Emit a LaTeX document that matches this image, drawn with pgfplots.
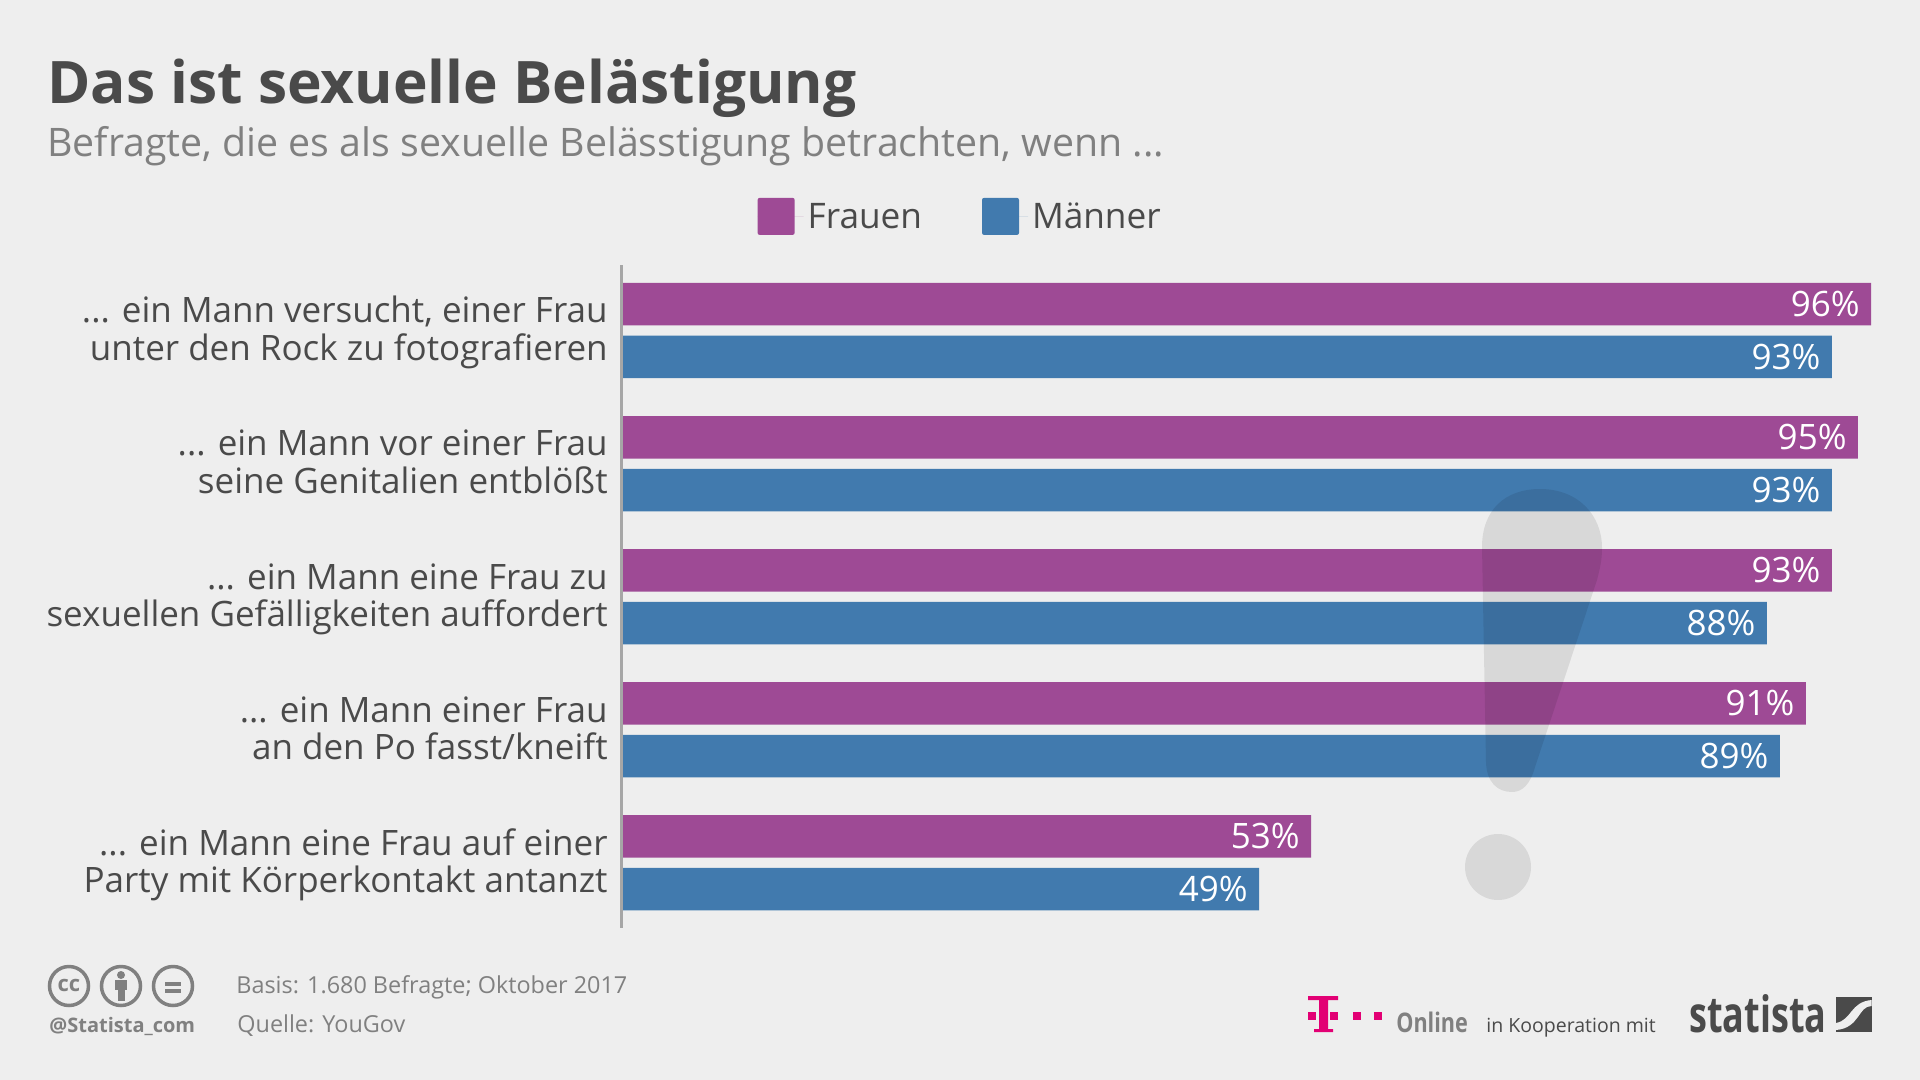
\documentclass[border=0pt]{standalone}
\usepackage{fontspec}
\setmainfont{Open Sans}
\usepackage{pgfplots}
\pgfplotsset{compat=1.18}
\definecolor{bgc}{HTML}{EEEEEE}
\definecolor{frauen}{HTML}{9E4A95}
\definecolor{maenner}{HTML}{417AAE}
\definecolor{dark}{HTML}{4A4A4A}
\definecolor{midgray}{HTML}{808080}
\definecolor{telekom}{HTML}{E20074}
\newcommand{\fs}[2]{\fontsize{#1}{#2}\selectfont}
\newcommand{\ddd}{.{}.{}.}
% two-line label with a fixed height and depth, so all sit alike
\newcommand{\lb}[2]{\rule{0pt}{15pt}#1\\#2\rule[-6pt]{0pt}{6pt}}
\begin{document}
\begin{tikzpicture}
\useasboundingbox (0,0) rectangle (960pt,-540pt);
\fill[bgc] (0,0) rectangle (960pt,-540pt);
\begin{axis}[
  at={(310.5pt,-464pt)}, anchor=south west,
  scale only axis, width=625pt, height=331.5pt,
  xbar, bar width=21.25pt,
  xmin=0, xmax=96,
  ymin=-0.493, ymax=4.49, y dir=reverse,
  axis on top,
  axis x line=none, axis y line*=left,
  y axis line style={-, draw=black!35, line width=1.5pt},
  ytick={0,1,2,3,4}, major tick length=0pt,
  yticklabels={
    {\lb{\ddd{} ein Mann versucht, einer Frau}{unter den Rock zu fotografieren}},
    {\lb{\ddd{} ein Mann vor einer Frau}{seine Genitalien entblößt}},
    {\lb{\ddd{} ein Mann eine Frau zu}{sexuellen Gefälligkeiten auffordert}},
    {\lb{\ddd{} ein Mann einer Frau}{an den Po fasst/kneift}},
    {\lb{\ddd{} ein Mann eine Frau auf einer}{Party mit Körperkontakt antanzt}}},
  yticklabel style={align=right, text=dark, font=\fs{17.5}{18.7}, inner sep=0pt, xshift=-6.5pt, yshift=-1pt},
  point meta=x,
  /pgf/number format/assume math mode=true,
  nodes near coords={\pgfmathprintnumber{\pgfplotspointmeta}\%},
  nodes near coords style={anchor=east, text=white, font=\fs{17.5}{20}, inner sep=0pt, xshift=-5.5pt},
  legend columns=2,
  legend style={at={(0.109,1.073)}, anchor=west, draw=none, fill=none, inner sep=0pt,
    font=\fs{17.6}{22}, text=dark,
    /tikz/every even column/.append style={column sep=28pt}},
  legend image code/.code={
    \path (0pt,0pt) -- (23pt,0pt);
    \fill[#1,draw=none,rounded corners=1pt] (0pt,-8.95pt) rectangle (18.5pt,9.55pt);},
]
\addplot[fill=frauen, draw=none, bar shift=13.2pt] coordinates {(96,0) (95,1) (93,2) (91,3) (53,4)};
\addlegendentry{Frauen}
\addplot[fill=maenner, draw=none, bar shift=-13.2pt] coordinates {(93,0) (93,1) (88,2) (89,3) (49,4)};
\addlegendentry{Männer}
\end{axis}
\begin{scope}[x=0.5pt,y=-0.5pt]
  % exclamation mark over the bars
  \fill[black,opacity=0.09] (1482,547) .. controls (1482,510) and (1505,489) .. (1540,489)
    .. controls (1578,489) and (1602,515) .. (1602,548)
    .. controls (1602,560) and (1600,568) .. (1597,580)
    -- (1535,767) .. controls (1530,785) and (1522,792) .. (1512,792)
    .. controls (1497,792) and (1487,782) .. (1486,763) -- cycle;
  \fill[black,opacity=0.09] (1498,867) circle[radius=33];
  % header
  \node[anchor=base west,inner sep=0pt,text=dark,font=\fs{29.3}{36}\bfseries] at (47,104) {Das ist sexuelle Belästigung};
  \node[anchor=base west,inner sep=0pt,text=black!50,font=\fs{19.65}{24}] at (47,157) {Befragte, die es als sexuelle Belässtigung betrachten, wenn \ddd};
  % cc icons
  \foreach \cx in {69,121,173} \draw[midgray,line width=1.75pt] (\cx,986) circle[radius=19.5];
  \node[text=midgray,inner sep=0pt,font=\fs{11}{12}\bfseries] at (69,985) {cc};
  \fill[midgray] (121,975) circle[radius=4];
  \fill[midgray] (115,980) rectangle (127,990);
  \fill[midgray] (118,990) rectangle (125,1001);
  \fill[midgray] (165,982) rectangle (181,985.5);
  \fill[midgray] (165,989) rectangle (181,992.5);
  % footer
  \node[anchor=base west,inner sep=0pt,text=midgray,font=\fs{10}{12}\bfseries] at (49,1032) {@Statista\_com};
  \node[anchor=base west,inner sep=0pt,text=midgray,font=\fs{11.7}{14}] at (236,993) {Basis: 1.680 Befragte; Oktober 2017};
  \node[anchor=base west,inner sep=0pt,text=midgray,font=\fs{11.7}{14}] at (237,1032) {Quelle: YouGov};
  % T-Online logo
  \fill[telekom] (1308,996) rectangle (1338,1000) (1319,996) rectangle (1328,1030) (1314,1029) rectangle (1333,1032);
  \foreach \dx in {1308,1330,1353,1374} \fill[telekom] (\dx,1012) rectangle +(8,8);
  \node[anchor=base west,inner sep=0pt,text=midgray,font=\fs{13.5}{16}\bfseries,xscale=0.8] at (1396,1032) {Online};
  \node[anchor=base west,inner sep=0pt,text=dark,font=\fs{9.75}{14}] at (1486,1032) {in Kooperation mit};
  % statista logo
  \node[anchor=base west,inner sep=0pt,text=dark,font=\fs{25}{26}\bfseries,xscale=0.72] at (1689,1032) {statista};
  \fill[dark] (1836,997) rectangle (1871.5,1032);
  \fill[bgc] (1836,1023) .. controls (1852,1020) and (1850,1002) .. (1871.5,1000) -- (1871.5,1006)
    .. controls (1858,1006) and (1860,1028) .. (1836,1030) -- cycle;
\end{scope}
\end{tikzpicture}
\end{document}
